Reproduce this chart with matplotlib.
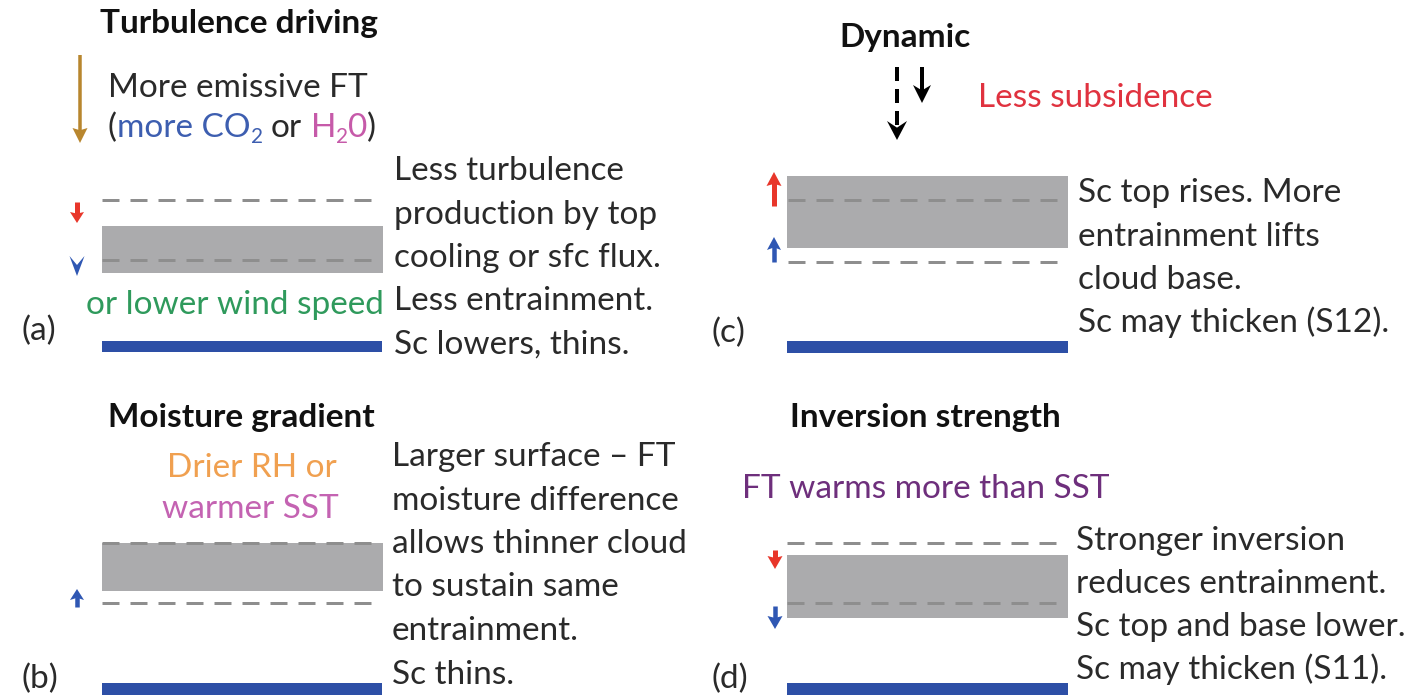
import matplotlib
matplotlib.use("Agg")
import matplotlib.pyplot as plt
from matplotlib.patches import Polygon, Rectangle

plt.rcParams['font.family'] = ['Lato', 'DejaVu Sans']
plt.rcParams['lines.scale_dashes'] = False

# ---------------- content ----------------
panel_labels = ["(a)", "(b)", "(c)", "(d)"]
panel_titles = ["Turbulence driving", "Moisture gradient", "Dynamic", "Inversion strength"]

notes_a = ["Less turbulence", "production by top", "cooling or sfc flux.",
           "Less entrainment.", "Sc lowers, thins."]
notes_b = ["Larger surface \u2013 FT", "moisture difference", "allows thinner cloud",
           "to sustain same", "entrainment.", "Sc thins."]
notes_c = ["Sc top rises. More", "entrainment lifts", "cloud base.",
           "Sc may thicken (S12)."]
notes_d = ["Stronger inversion", "reduces entrainment.", "Sc top and base lower.",
           "Sc may thicken (S11)."]

forcing_a1 = "More emissive FT"
forcing_a2 = [("(", "k"), ("more CO", "co2"), ("2", "co2_sub"), ("or", "k"),
              ("H", "h2o"), ("2", "h2o_sub"), ("0", "h2o"), (")", "k")]
forcing_a3 = "or lower wind speed"
forcing_b = ["Drier RH or", "warmer SST"]
forcing_c = "Less subsidence"
forcing_d = "FT warms more than SST"

# ---------------- style ----------------
TXT = '#2a2a2a'
TITLE_C = '#111111'
GRAY_BOX = '#ababad'
DASH_C = '#8e8e8e'
BLUE_LINE = '#2d4fa6'
RED = '#e8362a'
BLUE_ARR = '#2f57b3'
BROWN = '#b8862e'
C_CO2 = '#3d5eb0'
C_H2O = '#c65aa9'
C_GREEN = '#2f9a5c'
C_ORANGE = '#f0a050'
C_MAG = '#c463b2'
C_PURPLE = '#6e2f7c'
C_SUBS = '#e0323f'

BODY = 24
TITLE = 24
PX = 0.72  # points per pixel at dpi 100

W, H = 1425, 699
fig = plt.figure(figsize=(W / 100, H / 100), dpi=100)
ax = fig.add_axes([0, 0, 1, 1])
ax.set_xlim(0, W)
ax.set_ylim(H, 0)
ax.axis('off')
renderer = fig.canvas.get_renderer()


def txt(x, y, s, color=TXT, size=BODY, ha='left', bold=False):
    return ax.text(x, y, s, color=color, fontsize=size, ha=ha, va='baseline',
                   fontweight='bold' if bold else 'normal')


def width_of(s, size=BODY):
    t = ax.text(0, 0, s, fontsize=size)
    w = t.get_window_extent(renderer=renderer).width
    t.remove()
    return w


SPACE = width_of("x x") - width_of("xx")


def notes(x, y0, lines, step):
    for i, s in enumerate(lines):
        txt(x, y0 + i * step, s)


def dashed(x0, x1, y):
    ax.plot([x0, x1], [y, y], color=DASH_C, lw=3 * PX,
            linestyle=(0, (17 * PX, 11 * PX)), solid_capstyle='butt',
            dash_capstyle='butt')


def box(x0, x1, y0, y1, color):
    ax.add_patch(Rectangle((x0, y0), x1 - x0, y1 - y0, facecolor=color,
                           edgecolor='none', zorder=1))


def arrow(x, y_tail, y_tip, color, head_len, head_w, shaft_w, notch=0.3,
          dash=None):
    d = 1 if y_tip > y_tail else -1
    base = y_tip - d * head_len
    ny = base + d * head_len * notch
    if shaft_w > 0 and abs(ny - y_tail) > 0.5:
        kw = dict(color=color, lw=shaft_w * PX, solid_capstyle='butt',
                  dash_capstyle='butt', zorder=3)
        if dash is not None:
            kw['linestyle'] = (0, (dash[0] * PX, dash[1] * PX))
        ax.plot([x, x], [y_tail, ny + d * 1], **kw)
    ax.add_patch(Polygon([(x, y_tip), (x - head_w / 2, base), (x, ny),
                          (x + head_w / 2, base)], closed=True,
                         facecolor=color, edgecolor='none', zorder=3))


# ======== panel (a) ========
txt(239, 33, panel_titles[0], color=TITLE_C, size=TITLE, ha='center', bold=True)
arrow(80, 55, 143, BROWN, 15, 15, 3.5, notch=0.15)
txt(108, 97, forcing_a1)
x = 108
for s, kind in forcing_a2:
    if s == "or":
        x += SPACE
    if kind.endswith("_sub"):
        col = C_CO2 if kind.startswith("co2") else C_H2O
        t = txt(x, 143, s, color=col, size=BODY * 0.62)
    else:
        col = {"k": TXT, "co2": C_CO2, "h2o": C_H2O}[kind]
        t = txt(x, 137, s, color=col)
    x += t.get_window_extent(renderer=renderer).width
    if s == "or":
        x += SPACE
notes(394, 180, notes_a, 43.5)
dashed(102, 372, 200)
box(102, 383, 226, 273, GRAY_BOX)
dashed(102, 372, 260)
arrow(77, 202, 223, RED, 11, 14, 5, notch=0.15)
arrow(77, 256, 276, BLUE_ARR, 20, 15, 0, notch=0.45)
txt(86, 314, forcing_a3, color=C_GREEN)
txt(22, 340, panel_labels[0])
box(102, 382, 341, 352, BLUE_LINE)

# ======== panel (b) ========
txt(241, 427, panel_titles[1], color=TITLE_C, size=TITLE, ha='center', bold=True)
txt(252, 477, forcing_b[0], color=C_ORANGE, ha='center')
txt(250, 518, forcing_b[1], color=C_MAG, ha='center')
notes(392, 466, notes_b, 43.5)
box(102, 383, 543, 591, GRAY_BOX)
dashed(102, 372, 543)
dashed(102, 372, 603)
arrow(77, 607, 589, BLUE_ARR, 11, 14, 4.5, notch=0.2)
txt(22, 688, panel_labels[1])
box(102, 382, 683, 695, BLUE_LINE)

# ======== panel (c) ========
txt(905, 47, panel_titles[2], color=TITLE_C, size=TITLE, ha='center', bold=True)
arrow(897, 67, 140, 'k', 19, 20, 4, notch=0.35, dash=(14, 8))
arrow(922, 67, 103, 'k', 18, 18, 4, notch=0.3)
txt(978, 107, forcing_c, color=C_SUBS)
box(787, 1068, 176, 248, GRAY_BOX)
dashed(788, 1062, 200)
dashed(788, 1062, 262)
arrow(774, 206, 172, RED, 14, 15, 5, notch=0.15)
arrow(774, 262, 237, BLUE_ARR, 13, 14, 4.5, notch=0.2)
notes(1078, 202, notes_c, 43.5)
txt(712, 342, panel_labels[2])
box(787, 1068, 341, 353, BLUE_LINE)

# ======== panel (d) ========
txt(925, 427, panel_titles[3], color=TITLE_C, size=TITLE, ha='center', bold=True)
txt(742, 498, forcing_d, color=C_PURPLE)
dashed(787, 1062, 543)
box(787, 1068, 555, 618, GRAY_BOX)
dashed(787, 1062, 603)
arrow(775, 550, 569, RED, 13, 15, 5, notch=0.15)
arrow(775, 606, 629, BLUE_ARR, 13, 15, 4.5, notch=0.15)
notes(1076, 550, notes_d, 43)
txt(712, 688, panel_labels[3])
box(787, 1068, 683, 695, BLUE_LINE)

fig.savefig("out.png", dpi=100)
